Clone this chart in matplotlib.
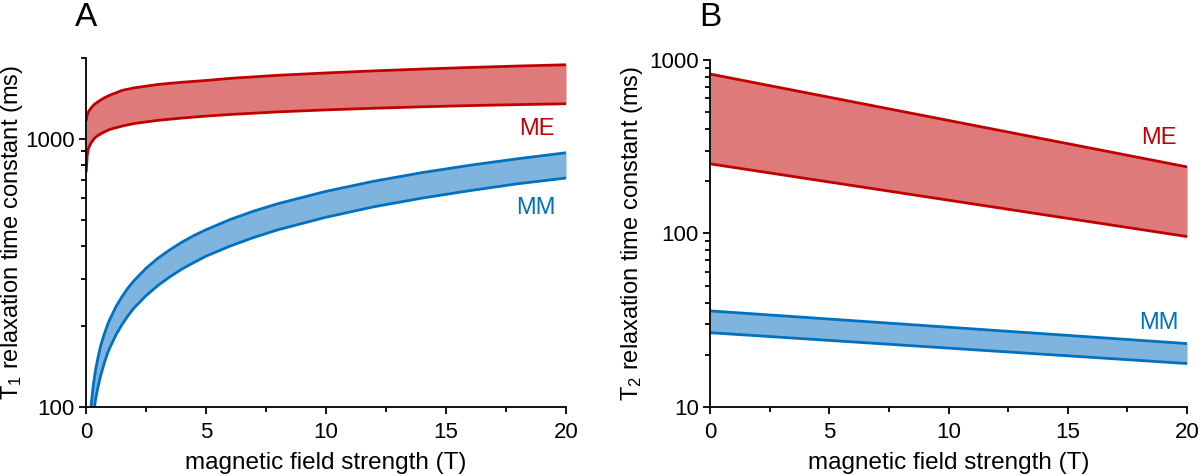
import matplotlib
matplotlib.use("Agg")
import matplotlib.pyplot as plt
from matplotlib.ticker import LogLocator, NullFormatter, FuncFormatter, MultipleLocator

plt.rcParams['font.family'] = ['Liberation Sans', 'DejaVu Sans']
plt.rcParams['mathtext.fontset'] = 'custom'
plt.rcParams['mathtext.rm'] = 'Liberation Sans'
plt.rcParams['mathtext.it'] = 'Liberation Sans:italic'

# ---- Panel A: T1 vs field ----
a_me_x = [0.01, 0.05, 0.1, 0.2, 0.35, 0.5, 0.75, 1, 1.5, 2, 3, 4, 5, 6, 8, 10, 12, 14, 16, 18, 20]
a_me_hi = [1180, 1230, 1262, 1300, 1345, 1375, 1420, 1455, 1515, 1548, 1595, 1625, 1650, 1680, 1725, 1760, 1792, 1820, 1845, 1868, 1888]
a_me_lo = [760, 870, 920, 962, 1005, 1030, 1060, 1085, 1115, 1140, 1172, 1195, 1215, 1232, 1260, 1282, 1300, 1316, 1330, 1341, 1351]

a_mm_x = [0.15, 0.2, 0.3, 0.4, 0.5, 0.6, 0.75, 0.9, 1, 1.25, 1.5, 1.75, 2, 2.5, 3, 3.5, 4, 4.5, 5, 6, 7, 8, 10, 12, 14, 16, 18, 20]
a_mm_hi = [86, 99, 120, 138, 153, 168, 186, 203, 213, 237, 258, 278, 296, 329, 359, 386, 412, 436, 458, 500, 538, 573, 637, 695, 748, 797, 843, 887]
a_mm_lo = [66, 77, 93, 107, 119, 130, 145, 159, 167, 186, 203, 219, 234, 260, 284, 306, 327, 346, 365, 398, 429, 458, 510, 558, 601, 641, 680, 714]

# ---- Panel B: T2 vs field ----
b_x = [0, 20]
b_me_hi = [830, 242]
b_me_lo = [252, 96]
b_mm_hi = [35.8, 23.2]
b_mm_lo = [26.8, 17.8]

xticks = [0, 5, 10, 15, 20]
xlabel = 'magnetic field strength (T)'
ylabel_a = r'T$_1$ relaxation time constant (ms)'
ylabel_b = r'T$_2$ relaxation time constant (ms)'

RED_LINE = '#C00000'
RED_FILL = '#DE7A7A'
BLUE_LINE = '#0070C0'
BLUE_FILL = '#7FB4DE'

fig = plt.figure(figsize=(12, 4.76), dpi=100)
axA = fig.add_axes([0.0717, 0.145, 0.400, 0.733])
axB = fig.add_axes([0.5917, 0.145, 0.3975, 0.729])

def style(ax, ylim):
    ax.set_yscale('log')
    ax.set_xlim(0, 20)
    ax.set_ylim(*ylim)
    for s in ('top', 'right'):
        ax.spines[s].set_visible(False)
    for s in ('left', 'bottom'):
        ax.spines[s].set_linewidth(1.3)
    ax.set_xticks(xticks)
    ax.xaxis.set_minor_locator(MultipleLocator(2.5))
    ax.yaxis.set_major_locator(LogLocator(base=10, numticks=10))
    ax.yaxis.set_minor_locator(LogLocator(base=10, subs=range(2, 10), numticks=10))
    ax.yaxis.set_major_formatter(FuncFormatter(lambda v, p: '%d' % round(v)))
    ax.yaxis.set_minor_formatter(NullFormatter())
    ax.tick_params(which='major', direction='out', length=5, width=1.3, labelsize=16, pad=3)
    ax.tick_params(axis='x', which='major', pad=6)
    ax.tick_params(which='minor', direction='out', length=3.5, width=1.3)
    ax.set_xlabel(xlabel, fontsize=17.5, labelpad=6)

style(axA, (100, 2000))
style(axB, (10, 1000))

axA.fill_between(a_me_x, a_me_lo, a_me_hi, color=RED_FILL, lw=0)
axA.plot(a_me_x, a_me_hi, color=RED_LINE, lw=2)
axA.plot(a_me_x, a_me_lo, color=RED_LINE, lw=2)
axA.fill_between(a_mm_x, a_mm_lo, a_mm_hi, color=BLUE_FILL, lw=0)
axA.plot(a_mm_x, a_mm_hi, color=BLUE_LINE, lw=2)
axA.plot(a_mm_x, a_mm_lo, color=BLUE_LINE, lw=2)
axA.text(18.8, 1089, 'ME', color=RED_LINE, fontsize=17, ha='center', va='center')
axA.text(18.75, 553, 'MM', color=BLUE_LINE, fontsize=17, ha='center', va='center')
axA.set_ylabel(ylabel_a, fontsize=17)
axA.yaxis.set_label_coords(-0.127, 0.5)

axB.fill_between(b_x, b_me_lo, b_me_hi, color=RED_FILL, lw=0)
axB.plot(b_x, b_me_hi, color=RED_LINE, lw=2)
axB.plot(b_x, b_me_lo, color=RED_LINE, lw=2)
axB.fill_between(b_x, b_mm_lo, b_mm_hi, color=BLUE_FILL, lw=0)
axB.plot(b_x, b_mm_hi, color=BLUE_LINE, lw=2)
axB.plot(b_x, b_mm_lo, color=BLUE_LINE, lw=2)
axB.text(18.8, 353, 'ME', color=RED_LINE, fontsize=17, ha='center', va='center')
axB.text(18.8, 30.6, 'MM', color=BLUE_LINE, fontsize=17, ha='center', va='center')
axB.set_ylabel(ylabel_b, fontsize=17)
axB.yaxis.set_label_coords(-0.136, 0.5)

fig.text(86 / 1200, 1 - 17 / 476, 'A', fontsize=24, ha='center', va='center')
fig.text(710 / 1200, 1 - 17 / 476, 'B', fontsize=24, ha='center', va='center')

fig.savefig('out.png', dpi=100)
